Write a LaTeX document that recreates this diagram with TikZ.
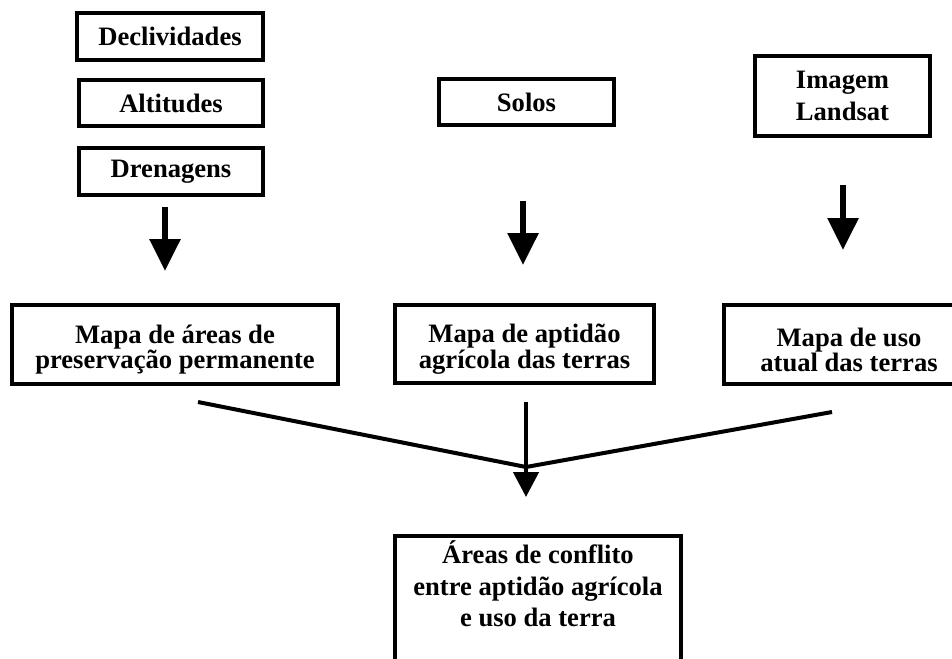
\documentclass[tikz,border=0pt]{standalone}
\usepackage{fontspec}
\setmainfont{Liberation Serif}
\usetikzlibrary{arrows.meta,positioning}
\tikzstyle{box} = [rectangle, draw=black, line width=3.5pt, align=center, inner sep=0pt, font=\fontsize{26.6}{31.5}\selectfont\bfseries]
\tikzstyle{mapbox} = [box, font=\fontsize{26.6}{25.5}\selectfont\bfseries]
\tikzstyle{arrow} = [line width=6pt, -{Triangle[width=30pt,length=32pt]}]
\tikzstyle{joinline} = [line width=4pt, line join=round]
\newcommand{\toplift}{\rule{0pt}{29pt}}

\begin{document}
\begin{tikzpicture}[x=1pt,y=-1pt]
        \useasboundingbox (0,0) rectangle (952,658);
        \clip (0,0) rectangle (952,658);
        \node (declividades) [box, minimum width=186, minimum height=47] at (170,36.5) {Declividades};
        \node (altitudes) [box, minimum width=184, minimum height=46] at (171,103) {Altitudes};
        \node (drenagens) [box, minimum width=184, minimum height=47] at (171,171.5) {Drenagens};
        \node (solos) [box, minimum width=175, minimum height=46] at (526.5,102) {Solos};
        \node (imagem-landsat) [box, minimum width=175, minimum height=80] at (842.5,96) {Imagem\\Landsat};
        \node (mapa-app) [mapbox, minimum width=326, minimum height=79] at (175,344.5) {\toplift Mapa de áreas de\\preservação permanente};
        \node (mapa-aptidao) [mapbox, minimum width=259, minimum height=78] at (524.5,344) {\toplift Mapa de aptidão\\agrícola das terras};
        \node (mapa-uso) [mapbox, minimum width=250, minimum height=79] at (849,344.5) {\toplift Mapa de uso\\atual das terras};
        \node (areas-conflito) [box, anchor=north, minimum width=286, inner ysep=5pt] at (538,534) {Áreas de conflito\\entre aptidão agrícola\\e uso da terra\\~};

        \coordinate (app-top) at (165,207);
        \coordinate (app-tip) at (165,271);
        \coordinate (aptidao-top) at (523,201);
        \coordinate (aptidao-tip) at (523,265);
        \coordinate (uso-top) at (843,185);
        \coordinate (uso-tip) at (843,250);
        \coordinate (left-end) at (198,402);
        \coordinate (right-end) at (832,412);
        \coordinate (merge) at (526,467);
        \coordinate (mid-top) at (526,402);
        \coordinate (mid-tip) at (526,497);

        \draw [arrow] (app-top) -- (app-tip);
        \draw [arrow] (aptidao-top) -- (aptidao-tip);
        \draw [arrow] (uso-top) -- (uso-tip);
        \draw [joinline] (left-end) -- (merge) -- (right-end);
        \draw [arrow, line width=4.5pt, -{Triangle[width=25pt,length=25pt]}] (mid-top) -- (mid-tip);
    \end{tikzpicture}
\end{document}
